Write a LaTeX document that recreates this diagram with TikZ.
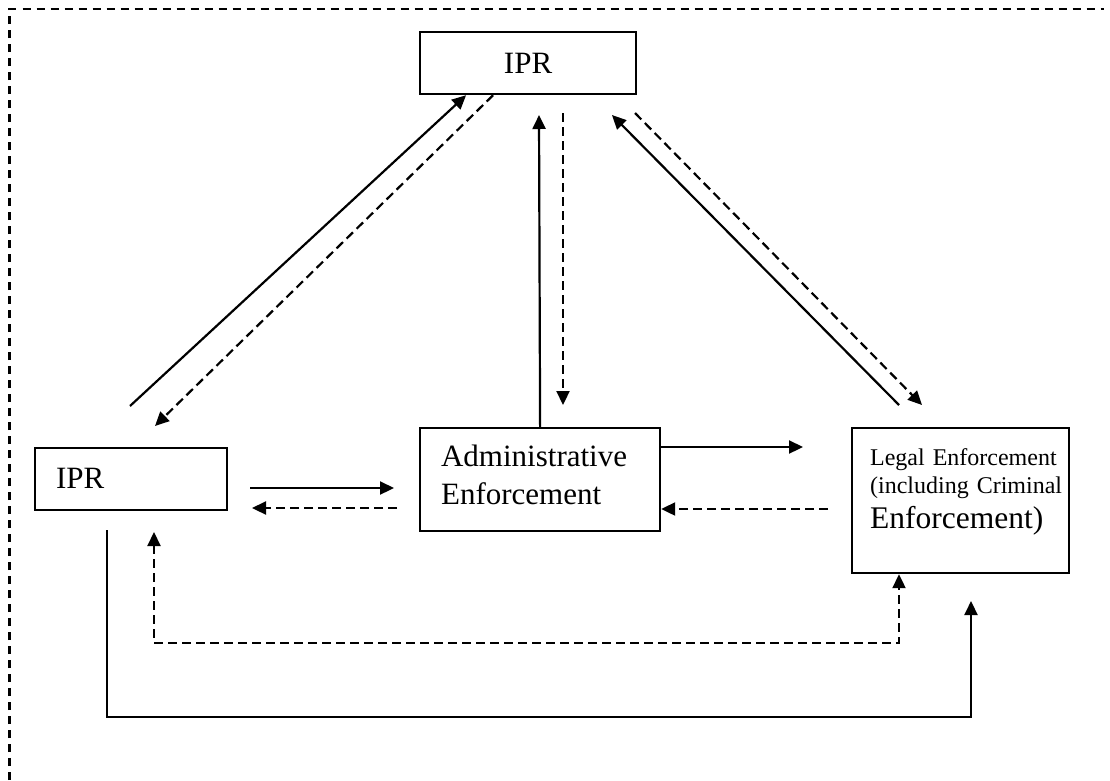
\documentclass[tikz,border=0pt]{standalone}
\usepackage{fontspec}
\setmainfont{Liberation Serif}
\usetikzlibrary{arrows.meta}

\begin{document}
\begin{tikzpicture}[x=1pt, y=-1pt, line width=2.2pt,
	main box/.style={draw,anchor=north west,inner ysep=0pt,font=\fontsize{31}{38}\selectfont},
	tip/.style={-{Triangle[length=14pt,width=13pt]}},
	both tips/.style={{Triangle[length=14pt,width=13pt]}-{Triangle[length=14pt,width=13pt]}},
	dash line/.style={dash pattern=on 9pt off 5pt}]

	  \useasboundingbox (0,0) rectangle (1110,780);
	  \draw[dash pattern=on 8pt off 6pt] (9.5,780) -- (9.5,9) -- (1104,9);

	  \node[main box,align=center,text width=216pt,inner xsep=0pt,text height=41pt,text depth=21pt] (ipr top) at (419,31) {IPR};
	  \node[main box,align=left,text width=150pt,inner xsep=21pt,text height=40pt,text depth=22pt] (ipr left) at (34,447) {IPR};
	  \node[main box,align=left,text width=198pt,inner xsep=21pt,text height=38pt,text depth=65pt] (admin) at (419,427) {Administrative\\Enforcement};
	  \node[main box,align=left,text width=181pt,inner xsep=18pt,text height=37pt,text depth=108pt,font=\fontsize{24}{28}\selectfont] (legal) at (851,427)
	    {\mbox{Legal Enforcement}\\\mbox{(including Criminal}\\[7pt]{\fontsize{31.5}{28}\selectfont\mbox{Enforcement)}}};

	  \coordinate (left up) at (130,406);
	  \coordinate (left down) at (155,426);
	  \coordinate (mid up) at (539,115);
	  \coordinate (mid down a) at (563,113);
	  \coordinate (mid down b) at (563,405);
	  \coordinate (right up a) at (899,405);
	  \coordinate (right up b) at (612,115);
	  \coordinate (right down a) at (635,113);
	  \coordinate (right down b) at (922,405);
	  \coordinate (to admin a) at (250,488);
	  \coordinate (to admin b) at (394,488);
	  \coordinate (to left a) at (397,508);
	  \coordinate (to left b) at (252,508);
	  \coordinate (to legal) at (803,447);
	  \coordinate (from legal) at (828,509);
	  \coordinate (dash end) at (154,532);
	  \coordinate (dash corner) at (899,643);
	  \coordinate (solid start) at (107,530);
	  \coordinate (solid corner) at (971,717);
	  \coordinate (solid end) at (971,601);

	  \draw[tip] (left up) -- ([xshift=-62pt]ipr top.south);
	  \draw[tip,dash line] ([xshift=-35pt]ipr top.south) -- (left down);
	  \draw[tip] (admin.north) -- (mid up);
	  \draw[tip,dash line] (mid down a) -- (mid down b);
	  \draw[tip] (right up a) -- (right up b);
	  \draw[tip,dash line] (right down a) -- (right down b);
	  \draw[tip] (to admin a) -- (to admin b);
	  \draw[tip,dash line] (to left a) -- (to left b);
	  \draw[tip] (admin.east |- to legal) -- (to legal);
	  \draw[tip,dash line] (from legal) -- (admin.east |- from legal);
	  \draw[both tips,dash line] (dash end) |- (dash corner) -- ([xshift=48pt]legal.south west);
	  \draw[tip] (solid start) |- (solid corner) -- (solid end);

	\end{tikzpicture}
\end{document}
